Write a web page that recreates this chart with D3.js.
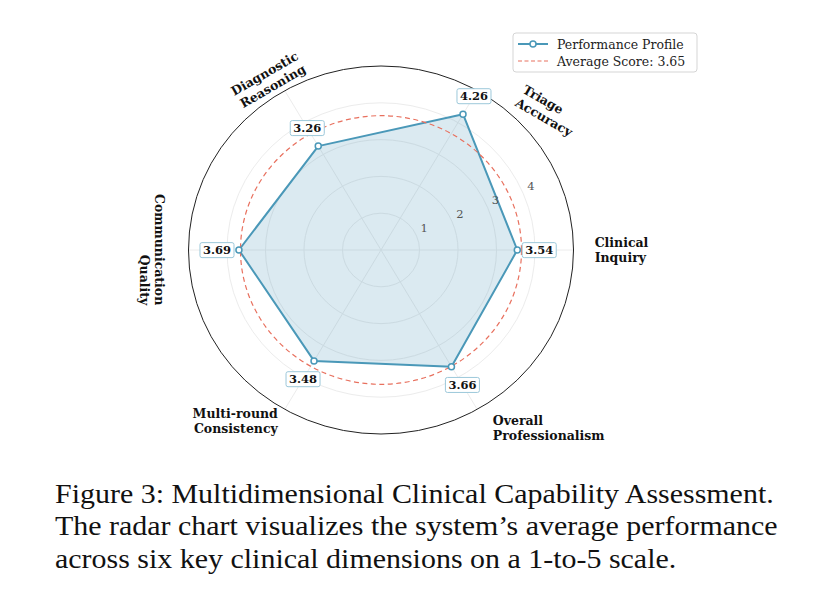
<!DOCTYPE html>
<html>
<head>
<meta charset="utf-8">
<script src="https://cdn.jsdelivr.net/npm/d3@7"></script>
<style>
  html, body { margin: 0; padding: 0; background: #fff; }
  svg { display: block; }
</style>
</head>
<body>
<svg id="chart" width="834" height="607"></svg>
<script>
// ---------- data ----------
const categories = ["Clinical Inquiry", "Triage Accuracy", "Diagnostic Reasoning",
                    "Communication Quality", "Multi-round Consistency", "Overall Professionalism"];
const categoryLines = [["Clinical", "Inquiry"], ["Triage", "Accuracy"], ["Diagnostic", "Reasoning"],
                       ["Communication", "Quality"], ["Multi-round", "Consistency"], ["Overall", "Professionalism"]];
const scores = [3.54, 4.26, 3.26, 3.69, 3.48, 3.66];
const averageScore = 3.65;
const radialTicks = [1, 2, 3, 4];
const radialMax = 5;
const legendLabels = ["Performance Profile", "Average Score: 3.65"];
const captionLines = [
  "Figure 3: Multidimensional Clinical Capability Assessment.",
  "The radar chart visualizes the system\u2019s average performance",
  "across six key clinical dimensions on a 1-to-5 scale."
];

// ---------- layout ----------
const cx = 381, cy = 250;
const rx = d3.scaleLinear().domain([0, radialMax]).range([0, 192.5]);
const ry = d3.scaleLinear().domain([0, radialMax]).range([0, 184]);
const angle = d3.scaleLinear().domain([0, categories.length]).range([0, 2 * Math.PI]);
// label block placement (radius in data units, angle in degrees, rotation in degrees, alignment)
const labelLayout = [
  {r: 6.25, a: 0,     rot: 0,   anchor: "start"},
  {r: 5.75, a: 41.2,  rot: 30,  anchor: "start"},
  {r: 5.47, a: 122.3, rot: -30, anchor: "end"},
  {r: 5.94, a: 180,   rot: 90,  anchor: "end"},
  {r: 5.99, a: 230.9, rot: 0,   anchor: "end"},
  {r: 6.51, a: 312,   rot: 0,   anchor: "start"}
];

const lineColor = "#4a98b8";
const avgColor = "#e8705e";
const serif = "'DejaVu Serif', serif";

function pt(r, a) { return [cx + rx(r) * Math.cos(a), cy - ry(r) * Math.sin(a)]; }

const svg = d3.select("#chart");
const g = svg.append("g");

// grid circles
g.selectAll(".grid").data(radialTicks).join("ellipse")
  .attr("cx", cx).attr("cy", cy)
  .attr("rx", d => rx(d)).attr("ry", d => ry(d))
  .attr("fill", "none").attr("stroke", "#ececec").attr("stroke-width", 1);

// spokes
g.selectAll(".spoke").data(categories).join("line")
  .attr("x1", cx).attr("y1", cy)
  .attr("x2", (d, i) => pt(radialMax, angle(i))[0])
  .attr("y2", (d, i) => pt(radialMax, angle(i))[1])
  .attr("stroke", "#ececec").attr("stroke-width", 1);

// filled polygon
const polyPts = scores.map((v, i) => pt(v, angle(i)));
g.append("path")
  .attr("d", d3.line().curve(d3.curveLinearClosed)(polyPts))
  .attr("fill", lineColor).attr("fill-opacity", 0.2)
  .attr("stroke", lineColor).attr("stroke-width", 2).attr("stroke-linejoin", "round");

// average circle
g.append("ellipse")
  .attr("cx", cx).attr("cy", cy)
  .attr("rx", rx(averageScore)).attr("ry", ry(averageScore))
  .attr("fill", "none").attr("stroke", avgColor).attr("stroke-width", 1.2)
  .attr("stroke-dasharray", "5,3.5");

// outer circle
g.append("ellipse")
  .attr("cx", cx).attr("cy", cy)
  .attr("rx", rx(radialMax)).attr("ry", ry(radialMax))
  .attr("fill", "none").attr("stroke", "#222").attr("stroke-width", 1);

// markers
g.selectAll(".marker").data(scores).join("circle")
  .attr("cx", (d, i) => pt(d, angle(i))[0])
  .attr("cy", (d, i) => pt(d, angle(i))[1])
  .attr("r", 3).attr("fill", "#fff").attr("stroke", lineColor).attr("stroke-width", 1.5);

// radial tick labels
const tickAngle = 22.5 * Math.PI / 180;
g.selectAll(".rtick").data(radialTicks).join("text")
  .attr("x", d => pt(d, tickAngle)[0] + 4)
  .attr("y", d => pt(d, tickAngle)[1] - 3.5)
  .attr("font-family", serif).attr("font-size", 11.5).attr("fill", "#555")
  .text(d => d);

// value labels
scores.forEach((v, i) => {
  const [x, y] = pt(v + 0.57, angle(i));
  const vg = g.append("g").attr("transform", `translate(${x},${y})`);
  const t = vg.append("text")
    .attr("text-anchor", "middle").attr("dy", "0.36em")
    .attr("font-family", serif).attr("font-weight", "bold").attr("font-size", 11.5)
    .attr("fill", "#111").text(v.toFixed(2));
  const bb = t.node().getBBox();
  vg.insert("rect", "text")
    .attr("x", bb.x - 3).attr("y", bb.y - 0.5)
    .attr("width", bb.width + 6).attr("height", bb.height + 1)
    .attr("rx", 2).attr("fill", "#fff")
    .attr("stroke", "#9cc8da").attr("stroke-width", 1);
});

// category labels
categoryLines.forEach((lines, i) => {
  const L = labelLayout[i];
  const [x, y] = pt(L.r, L.a * Math.PI / 180);
  const outer = g.append("g").attr("transform", `translate(${x},${y})`);
  const inner = outer.append("g");
  const lh = 15;
  lines.forEach((s, k) => {
    inner.append("text")
      .attr("x", 0).attr("y", k * lh)
      .attr("text-anchor", L.anchor)
      .attr("font-family", serif).attr("font-weight", "bold").attr("font-size", 12.5)
      .attr("fill", "#111").text(s);
  });
  const bb = inner.node().getBBox();
  const mx = bb.x + bb.width / 2, my = bb.y + bb.height / 2;
  inner.attr("transform", `rotate(${L.rot}) translate(${-mx},${-my})`);
});

// legend
const lg = svg.append("g").attr("transform", "translate(513,33)");
lg.append("rect").attr("width", 184).attr("height", 39).attr("rx", 3)
  .attr("fill", "#fff").attr("stroke", "#d5d5d5").attr("stroke-width", 1);
lg.append("line").attr("x1", 5).attr("x2", 35).attr("y1", 11).attr("y2", 11)
  .attr("stroke", lineColor).attr("stroke-width", 2);
lg.append("circle").attr("cx", 20).attr("cy", 11).attr("r", 3)
  .attr("fill", "#fff").attr("stroke", lineColor).attr("stroke-width", 1.5);
lg.append("line").attr("x1", 5).attr("x2", 35).attr("y1", 28).attr("y2", 28)
  .attr("stroke", avgColor).attr("stroke-width", 1.2).attr("stroke-dasharray", "4,2.5");
lg.selectAll(".ltxt").data(legendLabels).join("text")
  .attr("x", 44).attr("y", (d, i) => 11 + i * 17).attr("dy", "0.36em")
  .attr("font-family", serif).attr("font-size", 12.5).attr("fill", "#222")
  .text(d => d);

// caption
svg.append("g").attr("transform", "translate(55,0) scale(1.07,1)")
  .selectAll(".cap").data(captionLines).join("text")
  .attr("x", 0).attr("y", (d, i) => 503 + i * 32.5)
  .attr("font-family", "'Liberation Serif', 'Times New Roman', serif")
  .attr("font-size", 28).attr("fill", "#111")
  .text(d => d);
</script>
</body>
</html>
